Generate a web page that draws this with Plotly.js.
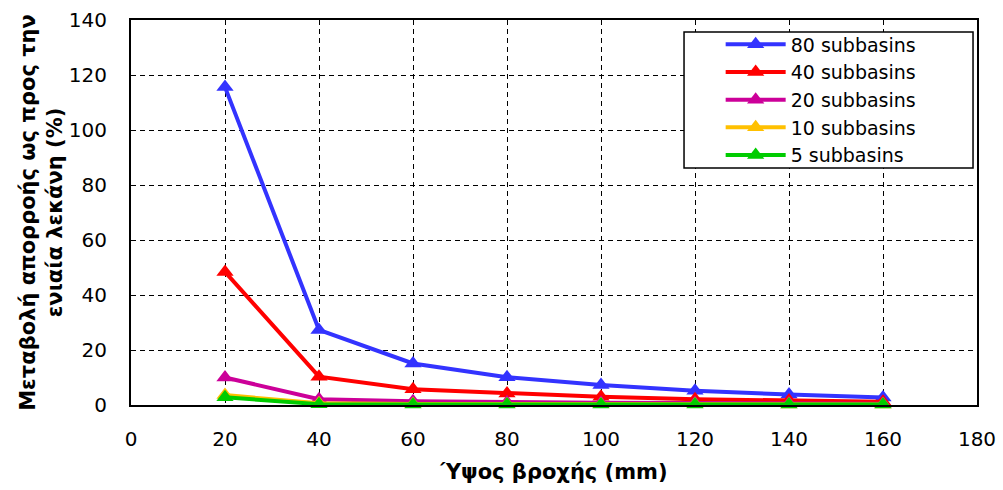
<!DOCTYPE html>
<html>
<head>
<meta charset="utf-8">
<script src="https://cdn.plot.ly/plotly-3.0.1.min.js"></script>
<style>
  html, body { margin: 0; padding: 0; background: #fff; }
  #chart { width: 1003px; height: 490px; }
</style>
</head>
<body>
<div id="chart"></div>
<script>
// Rainfall depth (mm)
const rainfall = [20, 40, 60, 80, 100, 120, 140, 160];

// Runoff change relative to the single (lumped) basin, %
const sub80 = [115.6, 27.3, 15.1, 10.1, 7.3, 5.2, 3.8, 2.7];
const sub40 = [48.4, 10.3, 5.7, 4.2, 3.0, 2.1, 1.6, 1.2];
const sub20 = [10.0, 2.1, 1.4, 1.0, 0.8, 0.7, 0.6, 0.5];
const sub10 = [3.6, 0.6, 0.4, 0.3, 0.3, 0.3, 0.2, 0.2];
const sub5 = [2.8, 0.3, 0.2, 0.2, 0.2, 0.2, 0.2, 0.2];

const seriesNames = ['80 subbasins', '40 subbasins', '20 subbasins', '10 subbasins', '5 subbasins'];
const seriesValues = [sub80, sub40, sub20, sub10, sub5];
const seriesColors = ['#3333ff', '#ff0000', '#cc0099', '#ffc000', '#00cc00'];

const traces = seriesValues.map((vals, i) => ({
  x: rainfall,
  y: vals,
  name: seriesNames[i],
  type: 'scatter',
  mode: 'lines+markers',
  line: { color: seriesColors[i], width: 4 },
  marker: { symbol: 'triangle-up', size: 15, color: seriesColors[i] },
  cliponaxis: false
}));

const tickFont = { family: 'DejaVu Sans', size: 20, color: '#000' };
const titleFont = { family: 'DejaVu Sans', size: 21, color: '#000', weight: 'bold' };

const layout = {
  width: 1003,
  height: 490,
  margin: { l: 131, r: 26, t: 20, b: 85 },
  paper_bgcolor: '#fff',
  plot_bgcolor: '#fff',
  showlegend: true,
  legend: {
    x: 0.697, y: 0.986, xanchor: 'left', yanchor: 'top',
    bgcolor: 'rgba(0,0,0,0)', borderwidth: 0,
    font: { family: 'DejaVu Sans', size: 19, color: '#000' },
    tracegroupgap: 0, itemwidth: 60
  },
  // legend frame
  shapes: [{
    type: 'rect', xref: 'paper', yref: 'paper',
    x0: 0.6537, x1: 0.9953, y0: 0.6156, y1: 0.9688,
    line: { color: '#000', width: 1.5 }, fillcolor: '#fff', layer: 'above'
  }],
  xaxis: {
    range: [0, 180], dtick: 20, tick0: 0,
    showline: true, linecolor: '#000', linewidth: 2, mirror: true,
    showgrid: true, gridcolor: '#000', griddash: '5px,4px', gridwidth: 1,
    zeroline: false, ticks: '', tickfont: tickFont, ticklabelstandoff: 15,
    automargin: false,
    title: { text: 'Ύψος βροχής (mm)', font: titleFont, standoff: 14 }
  },
  yaxis: {
    range: [0, 140], dtick: 20, tick0: 0,
    showline: true, linecolor: '#000', linewidth: 2, mirror: true,
    showgrid: true, gridcolor: '#000', griddash: '5px,4px', gridwidth: 1,
    zeroline: false, ticks: '', tickfont: tickFont, ticklabelstandoff: 18,
    automargin: false,
    title: { text: 'Μεταβολή απορροής ως προς την<br>ενιαία λεκάνη (%)', font: titleFont, standoff: 0 }
  }
};

Plotly.newPlot('chart', traces, layout, { displayModeBar: false, staticPlot: true });
</script>
</body>
</html>
